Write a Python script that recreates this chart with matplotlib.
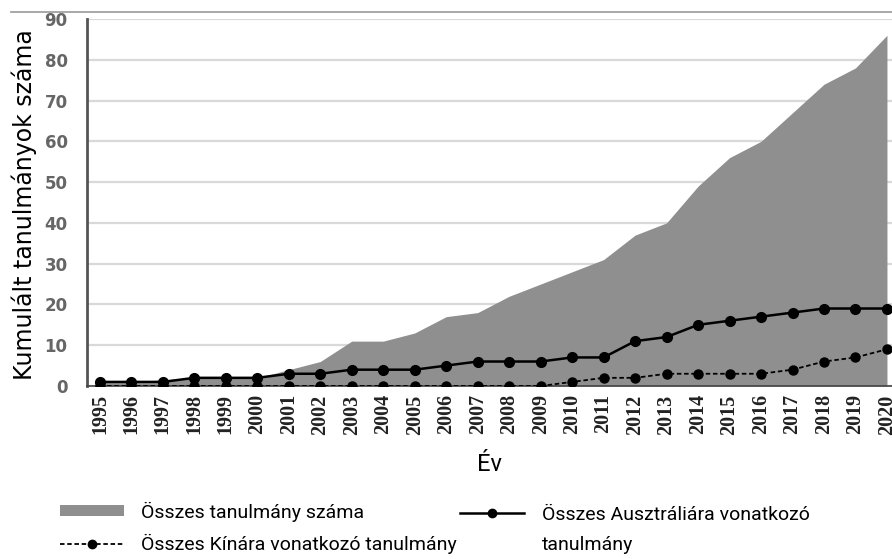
import numpy as np
import matplotlib.pyplot as plt
from matplotlib.lines import Line2D
from matplotlib.patches import Patch

years = np.arange(1995, 2021)
total = [1, 1, 1.5, 2, 2, 2, 4, 6, 11, 11, 13, 17, 18, 22, 25, 28, 31, 37, 40, 49, 56, 60, 67, 74, 78, 86]
australia = [1, 1, 1, 2, 2, 2, 3, 3, 4, 4, 4, 5, 6, 6, 6, 7, 7, 11, 12, 15, 16, 17, 18, 19, 19, 19]
china = [0, 0, 0, 0, 0, 0, 0, 0, 0, 0, 0, 0, 0, 0, 0, 1, 2, 2, 3, 3, 3, 3, 4, 6, 7, 9]

leg_font = ['Roboto', 'DejaVu Sans']

fig = plt.figure(figsize=(8.92, 5.59), dpi=100)
ax = fig.add_axes([0.0975, 0.3095, 0.9025, 0.6565])

ax.fill_between(years, total, 0, color='#8f8f8f', linewidth=0, zorder=1)
ax.plot(years, australia, '-o', color='black', lw=1.8, ms=7, zorder=3)
ax.plot(years, china, '--o', color='black', lw=1.3, ms=6.5, dashes=(2.5, 1.5), zorder=3)

ax.set_xlim(1994.59, 2020.16)
ax.set_ylim(0, 90)
ax.set_yticks(range(0, 91, 10))
ax.set_xticks(years)
ax.set_xticklabels([str(y) for y in years], rotation=90, fontsize=14.5,
                   fontweight='bold', family='Liberation Serif', color='#222222')
ax.tick_params(axis='y', labelsize=12, labelcolor='#666666', length=0, pad=14)
ax.tick_params(axis='x', length=0, pad=6)
for lab in ax.get_yticklabels():
    lab.set_fontweight('bold')

ax.grid(axis='y', color='#d9d9d9', lw=1.6, zorder=0)
ax.set_axisbelow(True)
for s in ['top', 'right']:
    ax.spines[s].set_visible(False)
ax.spines['left'].set_color('#555555')
ax.spines['left'].set_linewidth(2)
ax.spines['bottom'].set_color('#444444')
ax.spines['bottom'].set_linewidth(1.2)

ax.set_ylabel('Kumulált tanulmányok száma', fontsize=17)
ax.yaxis.set_label_coords(-0.062, 0.493)
ax.set_xlabel('Év', fontsize=17, family=leg_font, labelpad=13)

# top border line
fig.add_artist(Line2D([0.012, 1.0], [0.978, 0.978], color='#999999', lw=1.2))

h_total = Patch(facecolor='#8f8f8f', edgecolor='none')
h_china = Line2D([], [], color='black', ls='--', dashes=(2.5, 1.5), marker='o', ms=6, lw=1.3)
h_aus = Line2D([], [], color='black', ls='-', marker='o', ms=6, lw=1.8)
h_none = Line2D([], [], color='none')

leg_kw = dict(loc='upper left', frameon=False, prop={'family': leg_font, 'size': 14},
              handlelength=3.3, handletextpad=0.9, labelspacing=0.62, handleheight=0.5,
              borderaxespad=0, borderpad=0)
fig.legend([h_total, h_china], ['Összes tanulmány száma', 'Összes Kínára vonatkozó tanulmány'],
           bbox_to_anchor=(0.067, 0.1025), **leg_kw)
fig.legend([h_aus, h_none], ['Összes Ausztráliára vonatkozó', 'tanulmány'],
           bbox_to_anchor=(0.516, 0.0955), **leg_kw)

fig.savefig('out.png', dpi=100)
